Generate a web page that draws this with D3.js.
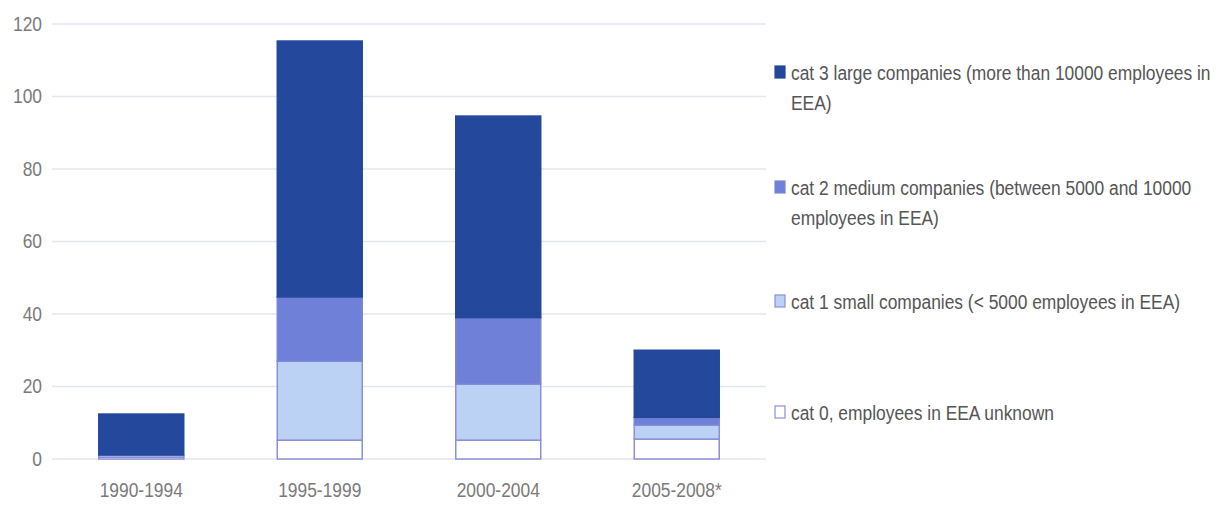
<html>
<meta charset="utf-8" />
<head>
<style>
body { margin: 0; background: #fff; }
svg text { font-family: "Liberation Sans", Arial, sans-serif; }
</style>
<script src="https://cdn.jsdelivr.net/npm/d3@7"></script>
</head>
<body>
<svg class="chart" width="1218" height="507"></svg>
<script>
// periods and stacked counts, bottom to top
var periods = ["1990-1994", "1995-1999", "2000-2004", "2005-2008*"];
var cat0 = [0.5, 5.2, 5.2, 5.5];
var cat1 = [0.6, 21.8, 15.5, 3.9];
var cat2 = [0, 17.7, 18.3, 2.1];
var cat3 = [11.3, 70.6, 55.6, 18.5];
var yTicks = [0, 20, 40, 60, 80, 100, 120];
var seriesNames = ["cat0", "cat1", "cat2", "cat3"];
var legendLabels = [
  ["cat 3 large companies (more than 10000 employees in", "EEA)"],
  ["cat 2 medium companies (between 5000 and 10000", "employees in EEA)"],
  ["cat 1 small companies (< 5000 employees in EEA)"],
  ["cat 0, employees in EEA unknown"]
];

var fills = ["#ffffff", "#bcd2f4", "#6f80d8", "#24489b"];
var strokes = ["#8a8fd8", "#8a8fd8", "#7b84d6", "#24489b"];
var squeeze = "scale(0.87,1)"; // the original uses a narrow face

var svg = d3.select(".chart");

var x = d3.scaleBand().domain(periods).range([52, 766])
    .paddingInner(0.524).paddingOuter(0.262);
var y = d3.scaleLinear().domain([0, 120]).range([459, 24]);

// grid
svg.append("g").selectAll("line").data(yTicks).enter().append("line")
    .attr("x1", 52).attr("x2", 766)
    .attr("y1", function(d){ return y(d); })
    .attr("y2", function(d){ return y(d); })
    .attr("stroke", "#e3e5ef").attr("stroke-width", 1.5);

var yAxis = d3.axisLeft(y).tickValues(yTicks).tickSize(0).tickPadding(0);
var yg = svg.append("g").attr("transform", "translate(42,0)").call(yAxis);
yg.select(".domain").remove();
yg.selectAll("text").attr("fill", "#7a7a7a").style("font-size", "20px")
    .attr("x", 0).attr("transform", squeeze)
    .style("font-family", "'Liberation Sans', sans-serif");

var xAxis = d3.axisBottom(x).tickSize(0).tickPadding(0);
var xg = svg.append("g").attr("transform", "translate(0,480)").call(xAxis);
xg.select(".domain").remove();
xg.selectAll("text").attr("fill", "#7a7a7a").style("font-size", "20px")
    .attr("dy", "0.85em").attr("transform", squeeze)
    .style("font-family", "'Liberation Sans', sans-serif");

// stack
var table = periods.map(function(p, i){
  return {period: p, cat0: cat0[i], cat1: cat1[i], cat2: cat2[i], cat3: cat3[i]};
});
var stacked = d3.stack().keys(seriesNames)(table);

var layers = svg.append("g").selectAll("g").data(stacked).enter().append("g")
    .attr("fill", function(d, i){ return fills[i]; })
    .attr("stroke", function(d, i){ return strokes[i]; })
    .attr("stroke-width", 1.5);

layers.selectAll("rect").data(function(d){ return d; }).enter().append("rect")
    .filter(function(d){ return d[1] - d[0] > 0; })
    .attr("x", function(d){ return x(d.data.period); })
    .attr("width", x.bandwidth())
    .attr("y", function(d){ return y(d[1]); })
    .attr("height", function(d){ return y(d[0]) - y(d[1]); });

// legend
var legendY = [73, 188, 302, 413];
var leg = svg.append("g").selectAll("g").data(legendLabels).enter().append("g")
    .attr("transform", function(d, i){ return "translate(775," + legendY[i] + ")"; });

leg.append("rect")
    .attr("x", 0).attr("y", -7).attr("width", 10).attr("height", 12)
    .attr("fill", function(d, i){ return fills[3 - i]; })
    .attr("stroke", function(d, i){ return strokes[3 - i]; })
    .attr("stroke-width", 1.2);

leg.each(function(lines){
  var g = d3.select(this);
  lines.forEach(function(t, j){
    g.append("text")
      .attr("transform", "translate(16," + (j * 30 + 7) + ") " + squeeze)
      .attr("fill", "#555")
      .style("font-size", "20px")
      .text(t);
  });
});
</script>
</body>
</html>
